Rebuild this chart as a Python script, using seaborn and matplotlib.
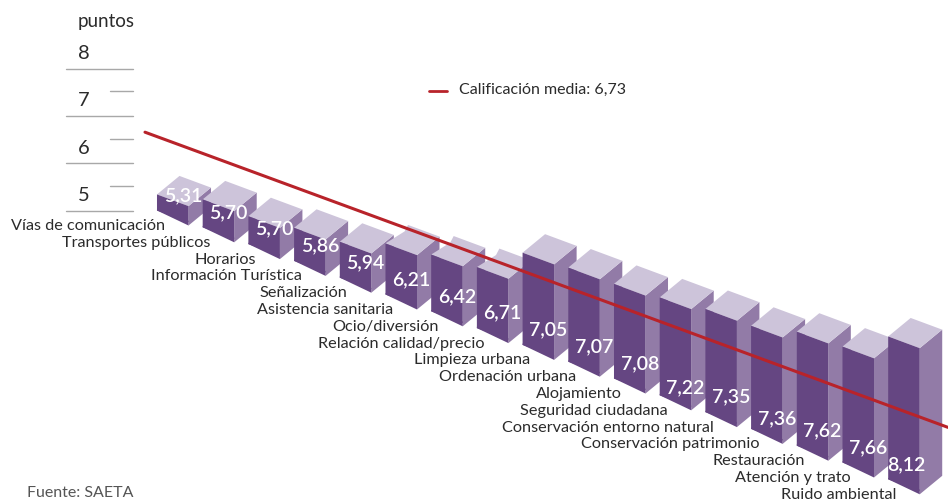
import matplotlib
matplotlib.use("Agg")
import numpy as np
import pandas as pd
import seaborn as sns
import matplotlib.pyplot as plt
from matplotlib.transforms import Affine2D

categories = ["Vías de comunicación", "Transportes públicos", "Horarios", "Información Turística",
              "Señalización", "Asistencia sanitaria", "Ocio/diversión", "Relación calidad/precio",
              "Limpieza urbana", "Ordenación urbana", "Alojamiento", "Seguridad ciudadana",
              "Conservación entorno natural", "Conservación patrimonio", "Restauración",
              "Atención y trato", "Ruido ambiental"]
scores = [5.31, 5.70, 5.70, 5.86, 5.94, 6.21, 6.42, 6.71, 7.05, 7.07, 7.08, 7.22, 7.35, 7.36, 7.62, 7.66, 8.12]
# drawn height of each box in axis points (not proportional to the score)
box_heights = [0.34, 0.59, 0.59, 0.70, 0.76, 1.08, 1.20, 1.29, 1.95, 1.99, 2.00, 2.07, 2.18, 2.18, 2.41, 2.45, 3.02]
# these boxes have a small notch in the top face
notched = [5, 6, 7]
axis_ticks = [5, 6, 7, 8]
mean_score = 6.73
mean_height = 1.44

PX_X, PX_Y = 45.7, 47.3  # pixels per category / per point
X0 = 172.75  # pixel of first category
FLOOR_STEP = 16.8 / PX_Y
TOP_SLOPE = 11.7 / PX_Y
BOTTOM_SLOPE = 15.0 / PX_Y
WIDTH = 0.69
DEPTH_X, DEPTH_Y = 22.5 / PX_X, 18.5 / PX_Y
DARK, MID, LIGHT = "#654682", "#927ba7", "#cdc4da"
RED = "#b8232a"
TEXT = "#2b2b2b"
NUM_DROP = {11: 7, 13: 5}  # numbers sitting lower than the rest, in pixels


def floor(x):
    return 5 - FLOOR_STEP * x


def px(x):
    return (x - X0) / PX_X


sns.set_style("white")
plt.rcParams["font.family"] = ["Lato", "DejaVu Sans"]

fig = plt.figure(figsize=(9.48, 5.01), dpi=100)
ax = fig.add_axes([0, 0, 1, 1])

idx = np.arange(len(scores))
df = pd.DataFrame({"cat": categories, "h": box_heights})
sns.barplot(data=df, x="cat", y="h", bottom=floor(idx), color=DARK, saturation=1,
            width=WIDTH, linewidth=0, ax=ax)
ax.set_xlim(px(0), px(948))
ax.set_ylim(5 - 290.5 / PX_Y, 5 + 210.5 / PX_Y)
ax.axis("off")

for i, (patch, h) in enumerate(zip(list(ax.patches), box_heights)):
    z = 2 + i * 0.01
    left = i - WIDTH / 2
    right = i + WIDTH / 2
    base = floor(i)
    # front face leans down to the right
    patch.set_transform(Affine2D().translate(-left, -base).skew(0, np.arctan(-TOP_SLOPE / WIDTH))
                        .translate(left, base) + ax.transData)
    patch.set_zorder(z + 0.003)
    base_r = base - TOP_SLOPE
    base_low = base - BOTTOM_SLOPE
    top_l = base + h
    top_r = top_l - TOP_SLOPE
    # wedge overlaps the sheared bar a little to hide the seam
    ax.fill([left, right, right, left], [base + 0.03, base_r + 0.03, base_low, base],
            color=DARK, lw=0, zorder=z + 0.003)
    ax.fill([right, right + DEPTH_X, right + DEPTH_X, right],
            [top_r, top_r + DEPTH_Y, base_low + DEPTH_Y, base_low], color=MID, lw=0, zorder=z + 0.001)
    top_xs = [left, right, right + DEPTH_X, left + DEPTH_X]
    top_ys = [top_l, top_r, top_r + DEPTH_Y, top_l + DEPTH_Y]
    if i in notched:
        top_xs.append(left + 0.85 * DEPTH_X)
        top_ys.append(top_l + 0.65 * DEPTH_Y)
    ax.fill(top_xs, top_ys, color=LIGHT, lw=0, zorder=z + 0.002)
    # last box has its number centred on the front
    num_x = i + (0.05 if i == len(scores) - 1 else 0.22)
    ax.text(num_x, base + (15 - NUM_DROP.get(i, 0)) / PX_Y, f"{scores[i]:.2f}".replace(".", ","),
            color="white", fontsize=14, fontweight="semibold", ha="center", va="center", zorder=3)
    ax.text(left + 8 / PX_X, base - 15.5 / PX_Y, categories[i], color=TEXT, fontsize=11.7,
            ha="right", va="center", zorder=3)

# mean line runs parallel to the floor
line_x = np.array([px(145), px(948)])
sns.lineplot(x=line_x, y=floor(line_x) + mean_height, color=RED, lw=2.2, ax=ax, zorder=4)

# axis on the left, drawn like a ruler
for t in axis_ticks:
    ax.plot([px(66), px(133)], [t, t], color="#a8a8a8", lw=1, zorder=1)
    if t < 8:
        ax.plot([px(110), px(133)], [t + 0.52, t + 0.52], color="#a8a8a8", lw=1, zorder=1)
    ax.text(px(84), t + 0.32, str(t), color=TEXT, fontsize=14.5, ha="center", va="center")
ax.text(px(106), 8.99, "puntos", color=TEXT, fontsize=13.5, ha="center", va="center")

ax.plot([px(429), px(447)], [7.53, 7.53], color=RED, lw=2)
ax.text(px(459), 7.55, f"Calificación media: {mean_score:.2f}".replace(".", ","), color=TEXT, fontsize=11.5, va="center")
ax.text(px(27), -0.98, "Fuente: SAETA", color="#555555", fontsize=11.5, va="center")

fig.savefig("out.png", dpi=100)
